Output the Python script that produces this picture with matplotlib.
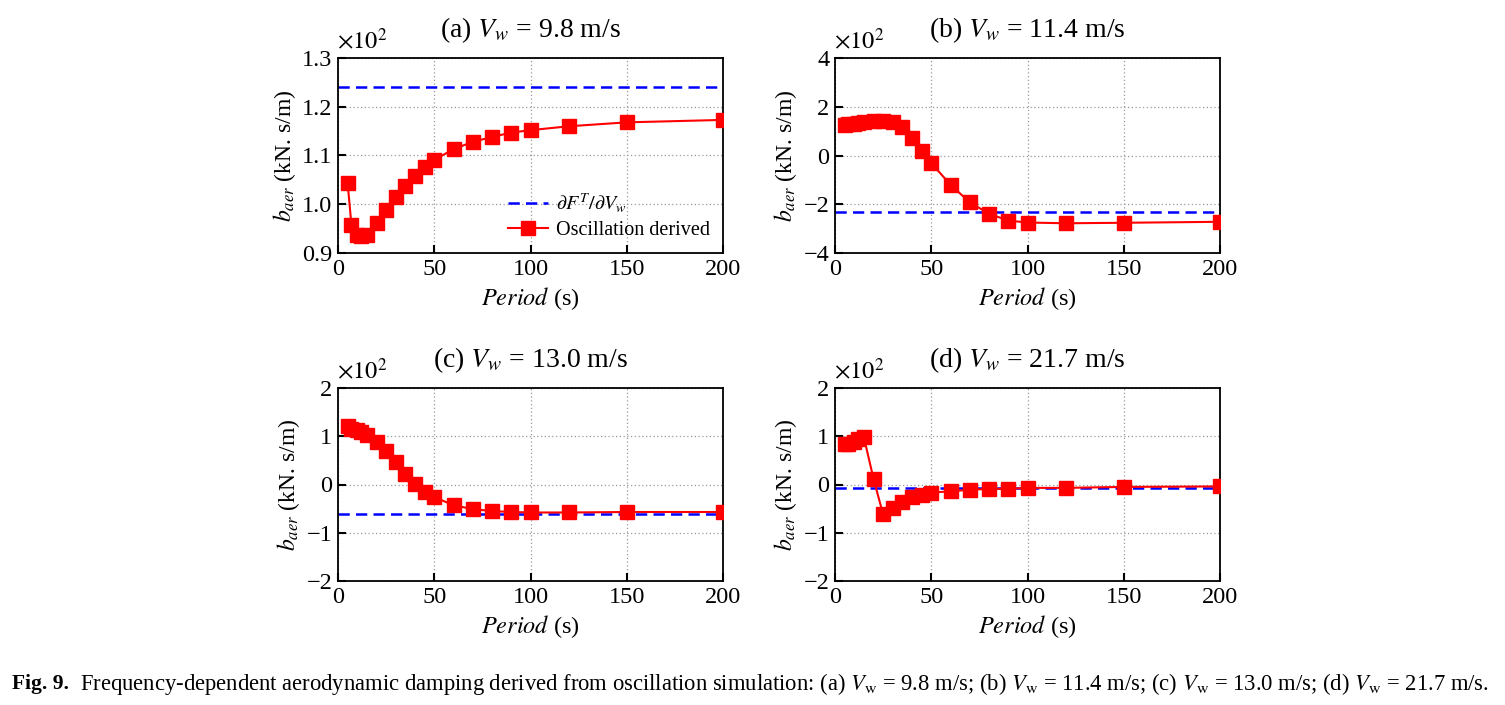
import matplotlib
matplotlib.use("Agg")
import matplotlib.pyplot as plt

plt.rcParams['font.family'] = ['Liberation Serif', 'DejaVu Serif']
plt.rcParams['mathtext.fontset'] = 'stix'

# Data (values in units of x10^2 kN.s/m)
periods = [5, 7, 10, 12, 15, 20, 25, 30, 35, 40, 45, 50, 60, 70, 80, 90, 100, 120, 150, 200]
osc_a = [1.043, 0.957, 0.936, 0.934, 0.937, 0.961, 0.988, 1.014, 1.037, 1.058, 1.077, 1.091,
         1.113, 1.128, 1.138, 1.147, 1.152, 1.160, 1.168, 1.173]
osc_b = [1.26, 1.28, 1.30, 1.33, 1.36, 1.40, 1.42, 1.36, 1.15, 0.71, 0.20, -0.31,
         -1.20, -1.92, -2.39, -2.67, -2.75, -2.78, -2.76, -2.72]
osc_c = [1.21, 1.16, 1.12, 1.08, 1.03, 0.89, 0.70, 0.46, 0.22, 0.01, -0.16, -0.26,
         -0.43, -0.51, -0.55, -0.57, -0.58, -0.58, -0.57, -0.57]
osc_d = [0.84, 0.84, 0.88, 0.94, 0.98, 0.12, -0.62, -0.49, -0.36, -0.26, -0.21, -0.17,
         -0.14, -0.11, -0.09, -0.09, -0.07, -0.07, -0.05, -0.04]
deriv = [1.241, -2.32, -0.62, -0.07]
titles = [r"(a) $V_w$ = 9.8 m/s", r"(b) $V_w$ = 11.4 m/s",
          r"(c) $V_w$ = 13.0 m/s", r"(d) $V_w$ = 21.7 m/s"]
ylims = [(0.9, 1.3), (-4, 4), (-2, 2), (-2, 2)]
yticks = [[0.9, 1.0, 1.1, 1.2, 1.3], [-4, -2, 0, 2, 4], [-2, -1, 0, 1, 2], [-2, -1, 0, 1, 2]]
xticks = [0, 50, 100, 150, 200]
series = [osc_a, osc_b, osc_c, osc_d]

W, H = 1505, 705
fig = plt.figure(figsize=(W / 100, H / 100), dpi=100)

boxes = [(338, 58, 385, 195), (835, 58, 385, 195), (338, 388, 385, 193), (835, 388, 385, 193)]
FS = 17.5

for i, (x0, y0, w, h) in enumerate(boxes):
    ax = fig.add_axes([x0 / W, (H - y0 - h) / H, w / W, h / H])
    ax.axhline(deriv[i], color='#0000ff', ls=(0, (4.5, 2.5)), lw=1.8,
               label=r"$\partial F^T/\partial V_w$", zorder=2)
    ax.plot(periods, series[i], color='#ff0000', lw=1.5, marker='s', ms=10,
            label='Oscillation derived', zorder=3)
    ax.set_xlim(0, 200)
    ax.set_ylim(*ylims[i])
    ax.set_xticks(xticks)
    ax.set_yticks(yticks[i])
    if i == 0:
        ax.set_yticklabels(['0.9', '1.0', '1.1', '1.2', '1.3'])
    ax.grid(True, ls=(0, (1, 2)), color='#999999', lw=0.9)
    ax.tick_params(direction='in', length=6, width=1.5, labelsize=FS, pad=4)
    for s in ax.spines.values():
        s.set_linewidth(1.3)
    ax.set_xlabel(r"$Period$ (s)", fontsize=FS, labelpad=4)
    ax.set_ylabel(r"$b_{aer}$ (kN. s/m)", fontsize=FS - 0.5, labelpad=3)
    ax.set_title(titles[i], fontsize=20, pad=15)
    ax.text(-0.002, 1.025, r"$\times 10^{2}$", transform=ax.transAxes, fontsize=FS,
            ha='left', va='bottom')
    if i == 0:
        ax.legend(loc='lower right', bbox_to_anchor=(1.0, 0.0), frameon=False,
                  fontsize=14.5, handlelength=2.0, handletextpad=0.4,
                  labelspacing=0.3, borderaxespad=0.25)

fig.text(12 / W, 1 - 684 / H, "Fig. 9.", fontsize=15.5, fontweight='bold', ha='left', va='center')
fig.text(80 / W, 1 - 684 / H,
         r"Frequency-dependent aerodynamic damping derived from oscillation simulation: "
         r"(a) $V_{\mathrm{w}}$ = 9.8 m/s; (b) $V_{\mathrm{w}}$ = 11.4 m/s; "
         r"(c) $V_{\mathrm{w}}$ = 13.0 m/s; (d) $V_{\mathrm{w}}$ = 21.7 m/s.",
         fontsize=16.3, ha='left', va='center')

fig.savefig("out.png", dpi=100)
